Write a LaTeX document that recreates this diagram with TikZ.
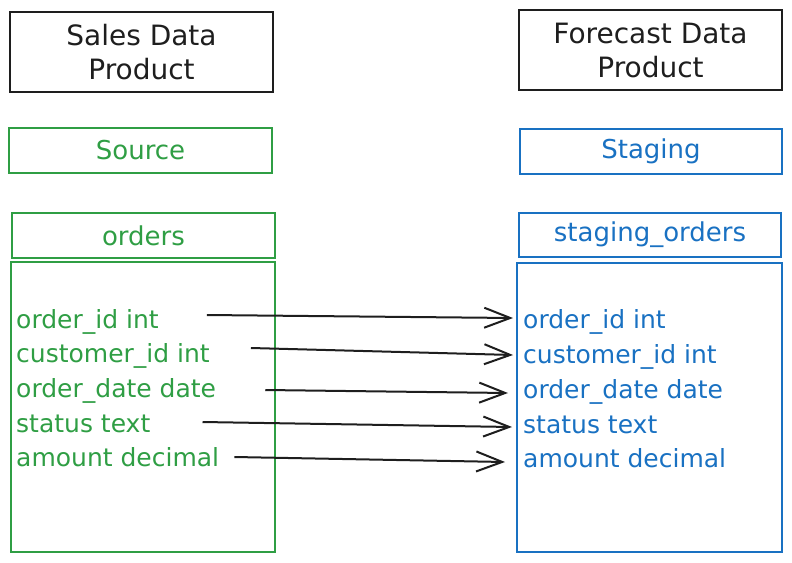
\documentclass[tikz,border=0pt]{standalone}
\usepackage{fontspec}
\setmainfont{DejaVu Sans}
\usepackage{tikz}
\usetikzlibrary{arrows.meta}
\definecolor{srcgreen}{HTML}{2F9E44}
\definecolor{stgblue}{HTML}{1971C2}
\definecolor{inkblack}{HTML}{1E1E1E}
\newcommand{\clrone}{srcgreen}
\newcommand{\clrtwo}{stgblue}
\tikzset{
  box/.style={draw, line width=1.8pt, inner sep=0pt, align=center},
  field/.style={anchor=base west, inner sep=0pt, font=\fontsize{25}{30}\selectfont},
  link/.style={inkblack, line width=2pt, -{Straight Barb[length=26pt,width=20pt]}},
}

\begin{document}
\begin{tikzpicture}[x=1pt, y=-1pt]

    \useasboundingbox (0,0) rectangle (792,562);

    \node[box, inkblack, minimum width=263pt, minimum height=80pt, font=\fontsize{28}{34}\selectfont] (sales) at (141.5,52) {Sales Data\\Product};
    \node[box, inkblack, minimum width=263pt, minimum height=80pt, font=\fontsize{28}{34}\selectfont] (forecast) at (650.5,50) {Forecast Data\\Product};

    \node[box, \clrone, minimum width=263pt, minimum height=45pt, font=\fontsize{26}{30}\selectfont] (source) at (140.5,150.5) {Source};
    \node[box, \clrtwo, minimum width=262pt, minimum height=45pt, font=\fontsize{26}{30}\selectfont] (staging) at (651,151.5) {Staging};

    \node[box, \clrone, minimum width=263pt, minimum height=45pt, font=\fontsize{26}{30}\selectfont] (orders) at (143.5,235.5) {orders};
    \node[box, \clrtwo, minimum width=262pt, minimum height=44pt, font=\fontsize{26}{30}\selectfont] (stgorders) at (650,235) {staging\_orders};

    \node[box, \clrone, minimum width=264pt, minimum height=290pt] (srctable) at (143,407) {};
    \node[box, \clrtwo, minimum width=265pt, minimum height=289pt] (stgtable) at (649.5,407.5) {};

    \node[field, \clrone] (lid) at (16,328) {order\_id int};
    \node[field, \clrone] (lcust) at (16,362.5) {customer\_id int};
    \node[field, \clrone] (ldate) at (16,397.5) {order\_date date};
    \node[field, \clrone] (lstatus) at (16,432) {status text};
    \node[field, \clrone] (lamount) at (16,466) {amount decimal};

    \node[field, \clrtwo] (rid) at (523,328) {order\_id int};
    \node[field, \clrtwo] (rcust) at (523,363) {customer\_id int};
    \node[field, \clrtwo] (rdate) at (523,398) {order\_date date};
    \node[field, \clrtwo] (rstatus) at (523,433) {status text};
    \node[field, \clrtwo] (ramount) at (523,467) {amount decimal};

    \draw[link] ([xshift=48pt, yshift=13pt]lid.base east) -- ([xshift=-10pt, yshift=10pt]rid.base west);
    \draw[link] ([xshift=41pt, yshift=14.5pt]lcust.base east) -- ([xshift=-10pt, yshift=8pt]rcust.base west);
    \draw[link] ([xshift=49pt, yshift=7.5pt]ldate.base east) -- ([xshift=-15pt, yshift=5pt]rdate.base west);
    \draw[link] ([xshift=52pt, yshift=10pt]lstatus.base east) -- ([xshift=-11pt, yshift=6pt]rstatus.base west);
    \draw[link] ([xshift=15pt, yshift=9pt]lamount.base east) -- ([xshift=-18pt, yshift=5pt]ramount.base west);

\end{tikzpicture}
\end{document}
